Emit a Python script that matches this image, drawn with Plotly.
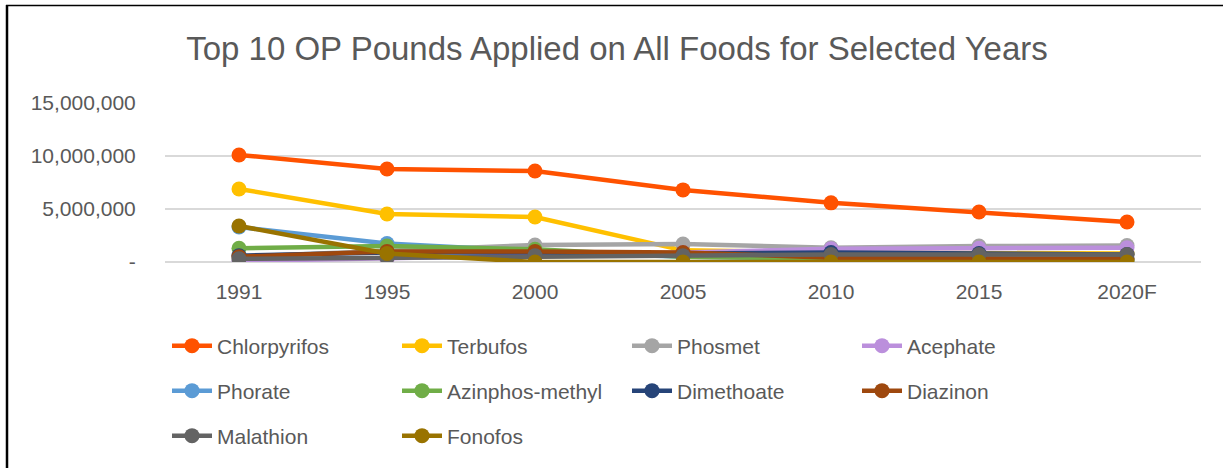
import plotly.graph_objects as go

years = ["1991", "1995", "2000", "2005", "2010", "2015", "2020F"]

chlorpyrifos = [10100000, 8780000, 8580000, 6800000, 5580000, 4720000, 3780000]
terbufos = [6890000, 4530000, 4250000, 1100000, 900000, 800000, 800000]
phosmet = [500000, 1000000, 1600000, 1700000, 1350000, 1500000, 1550000]
acephate = [100000, 300000, 600000, 900000, 1250000, 1300000, 1350000]
phorate = [3300000, 1750000, 1000000, 500000, 300000, 300000, 300000]
azinphos_methyl = [1300000, 1500000, 1200000, 500000, 300000, 200000, 200000]
dimethoate = [600000, 900000, 900000, 800000, 900000, 800000, 700000]
diazinon = [500000, 1000000, 1000000, 900000, 400000, 300000, 300000]
malathion = [300000, 400000, 600000, 600000, 700000, 700000, 700000]
fonofos = [3400000, 800000, 0, 0, 0, 0, 0]

series = [
    ("Chlorpyrifos", chlorpyrifos, "#ff5200", "legend"),
    ("Terbufos", terbufos, "#ffc000", "legend"),
    ("Phosmet", phosmet, "#a5a5a5", "legend"),
    ("Acephate", acephate, "#bb8fdc", "legend"),
    ("Phorate", phorate, "#5b9bd5", "legend2"),
    ("Azinphos-methyl", azinphos_methyl, "#70ad47", "legend2"),
    ("Dimethoate", dimethoate, "#264478", "legend2"),
    ("Diazinon", diazinon, "#9e480e", "legend2"),
    ("Malathion", malathion, "#636363", "legend3"),
    ("Fonofos", fonofos, "#997300", "legend3"),
]

ytick_vals = [0, 5000000, 10000000, 15000000]
ytick_text = ["-", "5,000,000", "10,000,000", "15,000,000"]

FONT = "Liberation Sans, Arial"
GREY = "#595959"

fig = go.Figure()
for name, vals, color, lg in series:
    fig.add_trace(go.Scatter(
        x=years, y=vals, name=name, mode="lines+markers",
        line=dict(color=color, width=4.5),
        marker=dict(color=color, size=15),
        legend=lg,
    ))

W, H = 1223, 468
ml, mr, mt, mb = 165, 22, 103, 206
pw, ph = W - ml - mr, H - mt - mb


def px_x(px):
    return (px - ml) / pw


def px_y(py):
    return (mt + ph - py) / ph


def legend_at(py):
    return dict(orientation="h", x=px_x(167), xanchor="left",
                y=px_y(py), yanchor="middle",
                entrywidth=175, entrywidthmode="pixels",
                font=dict(size=21, color=GREY, family=FONT),
                itemwidth=40, bgcolor="rgba(0,0,0,0)")


fig.update_layout(
    width=W, height=H,
    margin=dict(l=ml, r=mr, t=mt, b=mb, autoexpand=False),
    paper_bgcolor="white", plot_bgcolor="white",
    font=dict(family=FONT, color=GREY, size=21),
    title=dict(text="Top 10 OP Pounds Applied on All Foods for Selected Years",
               x=617 / W, xref="container", xanchor="center",
               y=1 - 48 / H, yref="container", yanchor="middle",
               font=dict(size=33, color=GREY, family=FONT)),
    xaxis=dict(type="category", range=[-0.5, 6.5], showgrid=False,
               ticks="outside", ticklen=11, tickcolor="rgba(0,0,0,0)",
               showline=False, automargin=False,
               tickfont=dict(size=21, color=GREY)),
    yaxis=dict(range=[0, 15000000], tickvals=ytick_vals, ticktext=ytick_text,
               showgrid=True, gridcolor="#d9d9d9", gridwidth=1.5,
               zeroline=True, zerolinecolor="#d9d9d9", zerolinewidth=1.5,
               ticks="outside", ticklen=24, tickcolor="rgba(0,0,0,0)",
               automargin=False, tickfont=dict(size=21, color=GREY)),
    showlegend=True,
    legend=legend_at(346),
    legend2=legend_at(391),
    legend3=legend_at(436),
)

# outer border (left and top edges)
fig.add_shape(type="line", xref="paper", yref="paper",
              x0=px_x(7), x1=px_x(7), y0=px_y(5), y1=px_y(470),
              line=dict(color="black", width=2.5))
fig.add_shape(type="line", xref="paper", yref="paper",
              x0=px_x(6), x1=px_x(1225), y0=px_y(5.5), y1=px_y(5.5),
              line=dict(color="black", width=1.5))

fig.write_html("out.html", config={"displayModeBar": False},
               post_script="document.body.style.margin='0';")
